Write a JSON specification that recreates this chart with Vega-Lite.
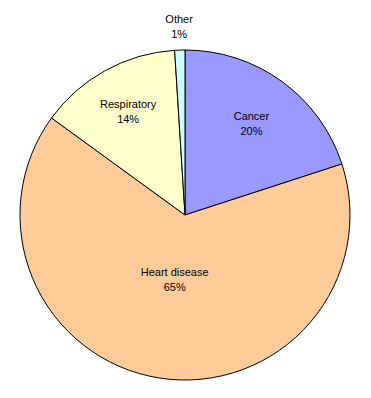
{
  "$schema": "https://vega.github.io/schema/vega-lite/v6.json",
  "width": 370,
  "height": 366,
  "autosize": {"type": "none"},
  "padding": {"top": 32, "left": 0, "right": 1, "bottom": 0},
  "background": "white",
  "config": {"view": {"stroke": null}},
  "data": {"values": [
    {"cause": "Cancer", "pct": 20, "rank": 1, "label": "Cancer\n20%"},
    {"cause": "Heart disease", "pct": 65, "rank": 2, "label": "Heart disease\n65%"},
    {"cause": "Respiratory", "pct": 14, "rank": 3, "label": "Respiratory\n14%"},
    {"cause": "Other", "pct": 1, "rank": 4, "label": "Other\n1%"}
  ]},
  "encoding": {
    "theta": {"field": "pct", "type": "quantitative", "stack": true},
    "order": {"field": "rank", "type": "quantitative", "sort": "ascending"}
  },
  "layer": [
    {
      "mark": {"type": "arc", "outerRadius": 165, "stroke": "black", "strokeWidth": 1},
      "encoding": {
        "color": {"field": "cause", "type": "nominal", "legend": null,
          "scale": {"domain": ["Cancer", "Heart disease", "Respiratory", "Other"],
                    "range": ["#9999FF", "#FFCC99", "#FFFFCC", "#CCFFFF"]}}
      }
    },
    {
      "mark": {"type": "text", "radius": 113, "dy": -7, "font": "Liberation Sans", "fontSize": 11, "lineHeight": 15, "lineBreak": "\n", "baseline": "middle", "align": "center", "color": "black"},
      "encoding": {"text": {"condition": {"test": "datum.cause === 'Cancer'", "field": "label"}, "value": ""}}
    },
    {
      "mark": {"type": "text", "radius": 118, "dy": -7, "font": "Liberation Sans", "fontSize": 11, "lineHeight": 15, "lineBreak": "\n", "baseline": "middle", "align": "center", "color": "black"},
      "encoding": {"text": {"condition": {"test": "datum.cause === 'Respiratory'", "field": "label"}, "value": ""}}
    },
    {
      "mark": {"type": "text", "radius": 66, "dy": -7, "font": "Liberation Sans", "fontSize": 11, "lineHeight": 15, "lineBreak": "\n", "baseline": "middle", "align": "center", "color": "black"},
      "encoding": {"text": {"condition": {"test": "datum.cause === 'Heart disease'", "field": "label"}, "value": ""}}
    },
    {
      "mark": {"type": "text", "radius": 188, "dy": -7, "font": "Liberation Sans", "fontSize": 11, "lineHeight": 15, "lineBreak": "\n", "baseline": "middle", "align": "center", "color": "black"},
      "encoding": {"text": {"condition": {"test": "datum.cause === 'Other'", "field": "label"}, "value": ""}}
    }
  ]
}
